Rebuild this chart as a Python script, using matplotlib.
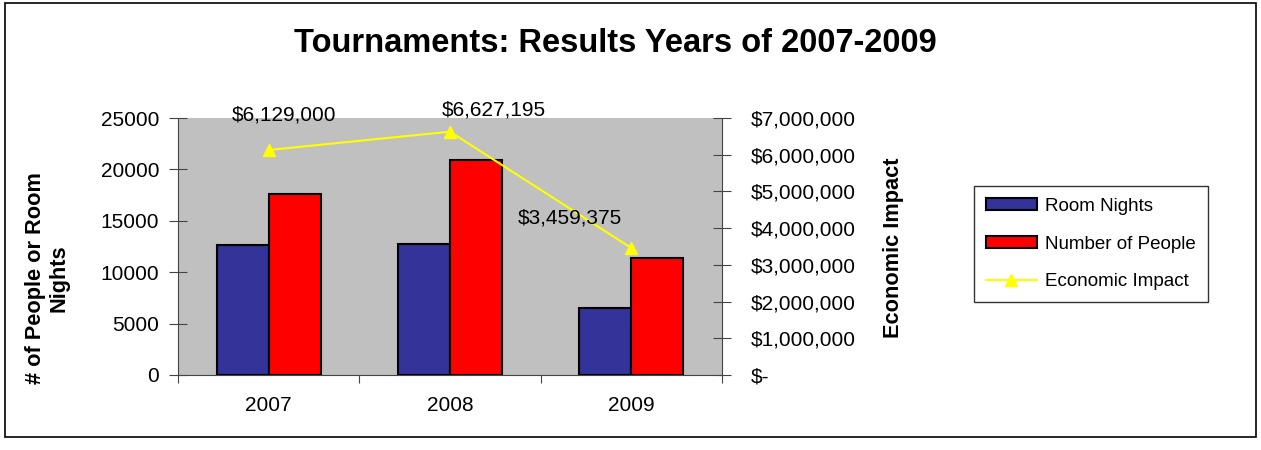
import matplotlib
matplotlib.use("Agg")
import matplotlib.pyplot as plt
import matplotlib.patches as mpatches
from matplotlib.lines import Line2D
import numpy as np

years = ["2007", "2008", "2009"]
room_nights = [12600, 12750, 6550]
num_people = [17600, 20900, 11400]
econ_impact = [6129000, 6627195, 3459375]
econ_labels = ["$6,129,000", "$6,627,195", "$3,459,375"]
left_ticks = [0, 5000, 10000, 15000, 20000, 25000]
right_ticks = [0, 1000000, 2000000, 3000000, 4000000, 5000000, 6000000, 7000000]
right_labels = ["$-", "$1,000,000", "$2,000,000", "$3,000,000", "$4,000,000",
                "$5,000,000", "$6,000,000", "$7,000,000"]

plt.rcParams['font.family'] = ['Liberation Sans', 'DejaVu Sans']

W, H = 1261, 450
fig = plt.figure(figsize=(W / 100, H / 100), dpi=100)
fig.patch.set_facecolor("white")

# outer border
fig.add_artist(mpatches.Rectangle((5 / W, 1 - 437 / H), 1251 / W, 434 / H,
                                  transform=fig.transFigure, fill=False,
                                  edgecolor="black", linewidth=1.2))

L, R, B, T = 178, 722, 375, 118
ax = fig.add_axes([L / W, 1 - B / H, (R - L) / W, (B - T) / H])
ax.set_facecolor("#C0C0C0")

x = np.arange(len(years))
bw = 0.286
ax.bar(x - bw / 2, room_nights, bw, color="#333399", edgecolor="black", linewidth=1.5, zorder=2)
ax.bar(x + bw / 2, num_people, bw, color="#FF0000", edgecolor="black", linewidth=1.5, zorder=2)
ax.set_xlim(-0.5, 2.5)
ax.set_ylim(0, 25000)
ax.set_yticks(left_ticks)
ax.set_yticklabels([str(v) for v in left_ticks], fontsize=15)
ax.set_xticks([-0.5, 0.5, 1.5, 2.5])
ax.set_xticklabels([])
ax.set_xticks(x, minor=True)
ax.set_xticklabels(years, minor=True, fontsize=15)
ax.tick_params(axis='x', which='minor', length=0, pad=15)
ax.tick_params(axis='x', which='major', direction='out', length=6, color="#444444")
ax.tick_params(axis='y', direction='inout', length=13, color="#444444", pad=7)
for s in ["top", "right"]:
    ax.spines[s].set_visible(False)
ax.spines["left"].set_color("#444444")
ax.spines["bottom"].set_color("#444444")
ax.set_ylabel("# of People or Room\nNights", fontsize=15.7, fontweight="bold")
ax.yaxis.set_label_coords(-0.199, 0.377)

ax2 = ax.twinx()
ax2.plot(x, econ_impact, color="#FFFF00", linewidth=1.5, marker="^", markersize=9,
         markerfacecolor="#FFFF00", markeredgecolor="#FFFF00", zorder=3)
ax2.set_ylim(0, 7000000)
ax2.set_yticks(right_ticks)
ax2.set_yticklabels(right_labels, fontsize=15, ha="left")
ax2.tick_params(axis='y', direction='inout', length=13, color="#444444", pad=14)
for s in ["top", "left", "bottom"]:
    ax2.spines[s].set_visible(False)
ax2.spines["right"].set_color("#444444")
ax2.set_ylabel("Economic Impact", fontsize=15.7, fontweight="bold")
ax2.yaxis.set_label_coords(1.296, 0.496)

offsets = [(15, 35), (44, 22), (-61, 30)]
for xi, v, lab, off in zip(x, econ_impact, econ_labels, offsets):
    ax2.annotate(lab, (xi, v), xytext=off, textcoords="offset pixels",
                 ha="center", va="center", fontsize=15, annotation_clip=False)

fig.text(615 / W, 1 - 44 / H, "Tournaments: Results Years of 2007-2009",
         ha="center", va="center", fontsize=23.5, fontweight="bold")

handles = [mpatches.Patch(facecolor="#333399", edgecolor="black", linewidth=1.5),
           mpatches.Patch(facecolor="#FF0000", edgecolor="black", linewidth=1.5),
           Line2D([0], [0], color="#FFFF00", marker="^", markersize=9, linewidth=1.5)]
labels = ["Room Nights", "Number of People", "Economic Impact"]
leg = fig.legend(handles, labels, loc="center", bbox_to_anchor=(1091 / W, 1 - 244 / H),
                 fontsize=13.5, frameon=True, fancybox=False, edgecolor="black",
                 handlelength=2.7, handleheight=0.59, labelspacing=1.1,
                 handletextpad=0.45, borderpad=0.65, borderaxespad=0)
leg.get_frame().set_linewidth(1.0)

fig.savefig("out.png", dpi=100)
